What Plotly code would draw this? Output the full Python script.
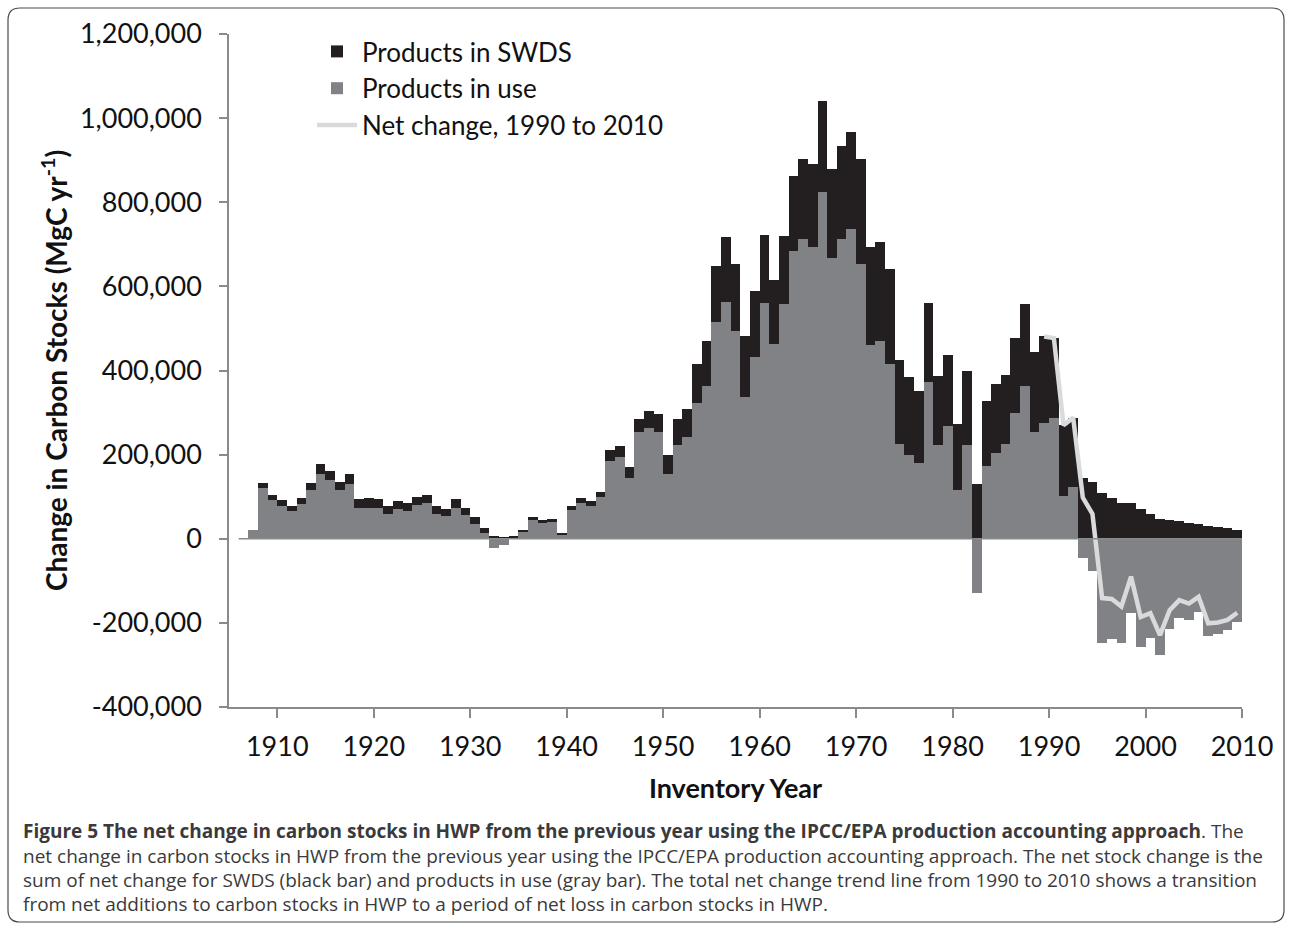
import plotly.graph_objects as go

# ---------------- data (MgC per year) ----------------
years = list(range(1908, 2011))

products_in_use = [
    21000, 120000, 91000, 78000, 67000, 82000, 115000, 154000, 139000, 115000,   # 1908-1917
    130000, 72000, 74000, 72000, 59000, 71000, 66000, 80000, 84000, 59000,       # 1918-1927
    55000, 74000, 57000, 36000, 13000, -23000, -16000, 500, 15000, 44000,        # 1928-1937
    37000, 40000, 9000, 69000, 85000, 78000, 99000, 186000, 195000, 145000,      # 1938-1947
    254000, 264000, 254000, 155000, 223000, 242000, 322000, 364000, 515000, 563000,  # 1948-1957
    493000, 337000, 433000, 560000, 464000, 558000, 685000, 713000, 694000, 824000,  # 1958-1967
    667000, 713000, 737000, 653000, 460000, 471000, 415000, 225000, 198000, 180000,  # 1968-1977
    372000, 222000, 269000, 115000, 222000, -128000, 172000, 204000, 225000, 299000, # 1978-1987
    362000, 253000, 276000, 287000, 102000, 122000, -46000, -76000, -249000, -239000, # 1988-1997
    -247000, -176000, -257000, -235000, -277000, -214000, -188000, -192000, -174000, -231000, # 1998-2007
    -227000, -218000, -198000,                                                    # 2008-2010
]

products_in_swds = [
    0, 12000, 12000, 13000, 11000, 14000, 17000, 24000, 23000, 21000,            # 1908-1917
    24000, 22000, 22000, 22000, 18000, 19000, 18000, 20000, 21000, 18000,        # 1918-1927
    16000, 20000, 17000, 16000, 12000, 7000, 5000, 5000, 6000, 8000,             # 1928-1937
    7000, 7000, 4000, 10000, 12000, 11000, 13000, 24000, 26000, 26000,           # 1938-1947
    31000, 40000, 42000, 45000, 62000, 66000, 93000, 107000, 134000, 154000,     # 1948-1957
    160000, 146000, 157000, 161000, 152000, 161000, 178000, 190000, 197000, 217000,  # 1958-1967
    213000, 221000, 230000, 250000, 234000, 234000, 227000, 200000, 186000, 172000,  # 1968-1977
    188000, 166000, 168000, 158000, 177000, 130000, 156000, 164000, 165000, 178000,  # 1978-1987
    197000, 191000, 205000, 190000, 168000, 166000, 144000, 135000, 108000, 96000,   # 1988-1997
    86000, 86000, 71000, 58000, 48000, 44000, 42000, 38000, 36000, 30000,        # 1998-2007
    28000, 25000, 22000,                                                          # 2008-2010
]

net_start_year = 1990
y_ticks = [-400000, -200000, 0, 200000, 400000, 600000, 800000, 1000000, 1200000]
x_ticks = [1910, 1920, 1930, 1940, 1950, 1960, 1970, 1980, 1990, 2000, 2010]

caption_lines = [
    "<b>Figure 5 The net change in carbon stocks in HWP from the previous year using the IPCC/EPA production accounting approach</b>. The",
    "net change in carbon stocks in HWP from the previous year using the IPCC/EPA production accounting approach. The net stock change is the",
    "sum of net change for SWDS (black bar) and products in use (gray bar). The total net change trend line from 1990 to 2010 shows a transition",
    "from net additions to carbon stocks in HWP to a period of net loss in carbon stocks in HWP.",
]

# ---------------- derived ----------------
net_years = [y for y in years if y >= net_start_year]
net_vals = [products_in_use[years.index(y)] + products_in_swds[years.index(y)] for y in net_years]

W, H = 1292, 932
ML, MR, MT, MB = 229, 50, 34, 225
PW, PH = W - ML - MR, H - MT - MB

def px(x):
    return (x - ML) / PW

def py(y):
    return (H - MB - y) / PH

FONT = "Lato"
GRAY = "#808285"
BLACK = "#231f20"
AXIS = "#8a8a8a"

fig = go.Figure()
fig.add_trace(go.Bar(
    x=years, y=products_in_use, name="Products in use",
    marker=dict(color=GRAY, line=dict(width=0)),
    offset=-1, width=1, legendrank=2,
))
fig.add_trace(go.Bar(
    x=years, y=products_in_swds, name="Products in SWDS",
    marker=dict(color=BLACK, line=dict(width=0)),
    offset=-1, width=1, legendrank=1,
))
fig.add_trace(go.Scatter(
    x=[y - 0.5 for y in net_years], y=net_vals, name="Net change, 1990 to 2010",
    mode="lines", line=dict(color="#d9dadb", width=4.5), legendrank=3,
))

# zero line
fig.add_shape(type="line", xref="x", yref="y", x0=1906, x1=2010, y0=0, y1=0,
              line=dict(color=AXIS, width=1.3), layer="above")

# rounded border around figure + caption
x0b, x1b, y0b, y1b, r = 8, 1284, 8, 922, 12
rx, ry = r / PW, r / PH
path = (
    f"M {px(x0b)+rx},{py(y0b)} L {px(x1b)-rx},{py(y0b)} Q {px(x1b)},{py(y0b)} {px(x1b)},{py(y0b)-ry} "
    f"L {px(x1b)},{py(y1b)+ry} Q {px(x1b)},{py(y1b)} {px(x1b)-rx},{py(y1b)} "
    f"L {px(x0b)+rx},{py(y1b)} Q {px(x0b)},{py(y1b)} {px(x0b)},{py(y1b)+ry} "
    f"L {px(x0b)},{py(y0b)-ry} Q {px(x0b)},{py(y0b)} {px(x0b)+rx},{py(y0b)} Z"
)
fig.add_shape(type="path", xref="paper", yref="paper", path=path,
              line=dict(color="#4a4a4a", width=1.2), fillcolor="rgba(0,0,0,0)")

# caption
cap_y = [831, 856, 880, 904]
for txt, yy in zip(caption_lines, cap_y):
    fig.add_annotation(text=txt, xref="paper", yref="paper", x=px(21), y=py(yy),
                       xanchor="left", yanchor="middle", showarrow=False,
                       font=dict(family="Open Sans", size=19, color="#3a3a3a"))

fig.update_layout(
    width=W, height=H, autosize=False,
    margin=dict(l=ML, r=MR, t=MT, b=MB, pad=0),
    paper_bgcolor="white", plot_bgcolor="white",
    barmode="relative", bargap=0,
    font=dict(family=FONT, color="#111111"),
    showlegend=True,
    legend=dict(x=px(312), y=py(28), xanchor="left", yanchor="top",
                bgcolor="rgba(0,0,0,0)", font=dict(family=FONT, size=26, color="#111111"),
                tracegroupgap=0, itemwidth=40),
    xaxis=dict(range=[1905, 2010], tickvals=x_ticks, ticktext=[str(t) for t in x_ticks],
               showline=True, linecolor=AXIS, linewidth=1.5, ticks="outside", ticklen=9,
               tickcolor=AXIS, tickwidth=1.5, showgrid=False, zeroline=False,
               ticklabelstandoff=6,
               tickfont=dict(family=FONT, size=27, color="#111111"),
               title=dict(text="<b>Inventory Year</b>", font=dict(family=FONT, size=27, color="#111111"),
                          standoff=18)),
    yaxis=dict(range=[-400000, 1200000], tickvals=y_ticks, ticktext=[f"{v:,}" for v in y_ticks],
               showline=True, linecolor=AXIS, linewidth=1.5, ticks="outside", ticklen=8,
               tickcolor=AXIS, tickwidth=1.5, showgrid=False, zeroline=False,
               ticklabelstandoff=12,
               tickfont=dict(family=FONT, size=27, color="#111111"),
               title=dict(text="<b>Change in Carbon Stocks (MgC yr<sup>-1</sup>)</b>",
                          font=dict(family=FONT, size=28, color="#111111"), standoff=4)),
)

fig.write_html("out.html", config={"displayModeBar": False},
               post_script="document.body.style.margin='0';document.body.style.overflow='hidden';")
